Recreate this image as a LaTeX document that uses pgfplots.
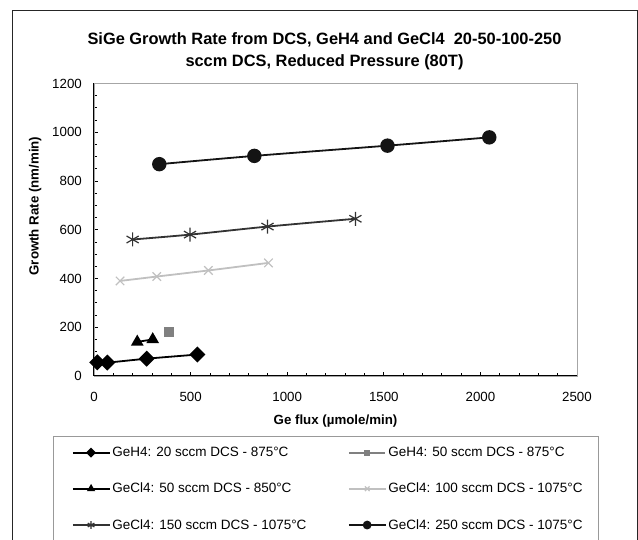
\documentclass[border=0pt]{standalone}
\usepackage{pgfplots}
\pgfplotsset{compat=1.18}
\usepackage{fontspec}
\setmainfont{Liberation Sans}
\definecolor{cGray}{HTML}{808080}
\definecolor{cLight}{HTML}{C0C0C0}
\definecolor{cDark}{HTML}{333333}
\definecolor{cBlack}{HTML}{141414}
\begin{document}
\begin{tikzpicture}
\draw[black!85, line width=0.9pt] (12pt,-30pt) rectangle (637pt,530pt);
\node[font=\fontsize{16.4}{22.5}\selectfont\bfseries, align=center] at (324.5pt,488.5pt)
  {SiGe Growth Rate from DCS, GeH4 and GeCl4\ \ 20-50-100-250\\ sccm DCS, Reduced Pressure (80T)};
\draw[gray!80, line width=0.8pt] (53.3pt,103.3pt) rectangle (598.3pt,-30pt);
\begin{axis}[
  at={(94pt,164pt)}, anchor=south west, scale only axis,
  width=483pt, height=292.5pt,
  xmin=0, xmax=2500, ymin=0, ymax=1200,
  xtick={0,500,...,2500}, ytick={0,200,...,1200},
  minor x tick num=4, minor y tick num=3,
  xtick pos=left, ytick pos=left,
  tick align=inside,
  major tick length=4pt, minor tick length=2.5pt,
  tick style={black, line width=0.8pt},
  axis line style={draw=gray!70, line width=0.8pt},
  ticklabel style={font=\fontsize{13.3}{15}\selectfont, inner sep=0pt},
  xticklabel style={yshift=-16pt},
  yticklabel style={xshift=-12pt},
  /pgf/number format/assume math mode=true,
  /pgf/number format/1000 sep={},
  xlabel={Ge flux (µmole/min)},
  xlabel style={font=\fontsize{13.3}{15}\selectfont\bfseries, at={(axis description cs:0.5,-0.154)}, anchor=center},
  ylabel={Growth Rate (nm/min)},
  ylabel style={font=\fontsize{13.3}{15}\selectfont\bfseries, at={(axis description cs:-0.122,0.581)}, anchor=center},
  clip=false,
  legend columns=2,
  legend cell align=left,
  legend style={draw=none, fill=none, inner sep=0pt,
    at={(axis description cs:-0.0462,-0.2427)}, anchor=north west,
    font=\fontsize{13.5}{15}\selectfont,
    nodes={inner sep=0pt},
    row sep=25pt,
    /tikz/every odd column/.append style={column sep=2pt},
    /tikz/every even column/.append style={column sep=5.7pt}},
  legend image code/.code={\draw[mark repeat=2, mark phase=2, #1, every mark/.append style={scale=0.55}]
    plot coordinates {(0pt,0pt) (18.3pt,0pt) (36.6pt,0pt)};},
]
\addplot[black, line width=1.8pt, smooth, mark=square*, mark size=4.8pt, mark options={rotate=45, solid}]
  coordinates {(17,56) (69,55) (273,71) (535,88)};
\addlegendentry{\makebox[230pt][l]{GeH4: 20 sccm DCS - 875°C}}
\addplot[cGray, line width=1.8pt, mark=square*, mark size=4pt]
  coordinates {(387,181)};
\addlegendentry{GeH4: 50 sccm DCS - 875°C}
\addplot[black, line width=1.8pt, smooth, mark=triangle*, mark size=5.5pt]
  coordinates {(224,140) (304,150)};
\addlegendentry{\makebox[230pt][l]{GeCl4: 50 sccm DCS - 850°C}}
\addplot[cLight, line width=1.8pt, smooth, mark=x, mark size=6pt, mark options={line width=1.2pt}]
  coordinates {(135,390) (325,408) (592,433) (903,464)};
\addlegendentry{GeCl4: 100 sccm DCS - 1075°C}
\addplot[cDark, line width=1.8pt, smooth, mark=asterisk, mark size=7pt, mark options={line width=1.2pt}]
  coordinates {(200,560) (497,580) (898,613) (1353,645)};
\addlegendentry{\makebox[230pt][l]{GeCl4: 150 sccm DCS - 1075°C}}
\addplot[cBlack, line width=1.8pt, smooth, mark=*, mark size=6.3pt]
  coordinates {(338,869) (830,903) (1519,945) (2046,979)};
\addlegendentry{GeCl4: 250 sccm DCS - 1075°C}
\draw[black, line width=1pt] (rel axis cs:0,1) -- (rel axis cs:0,0) -- (rel axis cs:1,0);
\end{axis}
\pgfresetboundingbox
\path[use as bounding box] (0pt,0pt) rectangle (638pt,540pt);
\end{tikzpicture}
\end{document}
